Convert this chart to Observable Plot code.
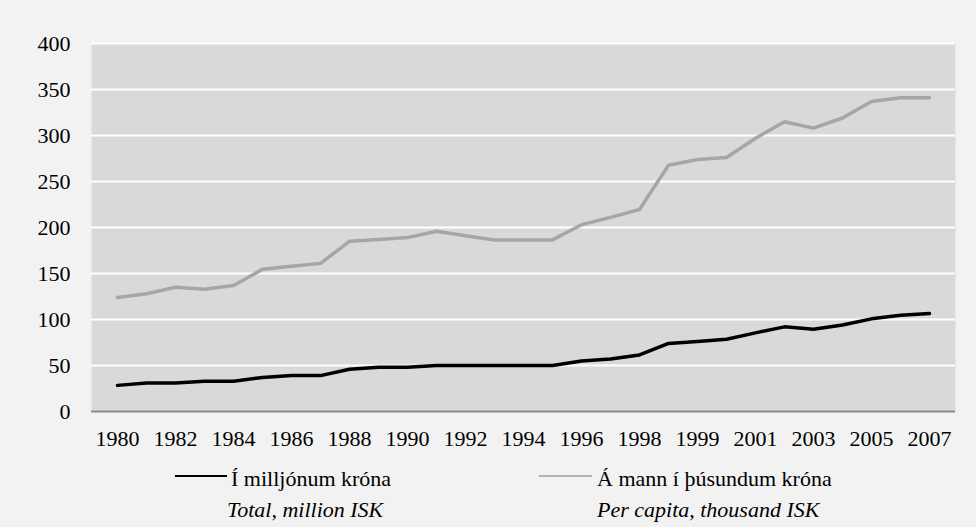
<!DOCTYPE html>
<html>
<head>
<meta charset="utf-8">
<script src="https://cdn.jsdelivr.net/npm/d3@7"></script>
<script src="https://cdn.jsdelivr.net/npm/@observablehq/plot@0.6"></script>
<style>
  html, body { margin: 0; padding: 0; background: #f2f2f2; }
  #wrap { position: relative; width: 976px; height: 527px; background: #f2f2f2; overflow: hidden;
          font-family: "Liberation Serif", Tinos, "Times New Roman", Times, "DejaVu Serif", serif; color: #000; }
  #legend { position: relative; width: 976px; height: 72px; }
  .sw { position: absolute; height: 2px; top: 20px; }
  .lt { position: absolute; font-size: 22px; line-height: 22px; white-space: nowrap; }
  .it { font-style: italic; }
  #chart svg text { font-family: "Liberation Serif", Tinos, "Times New Roman", Times, "DejaVu Serif", serif; }
</style>
</head>
<body>
<div id="wrap">
  <div id="chart"></div>
  <div id="legend"></div>
</div>
<script>
// Category labels (index 19 is a second 1998 value; only every other label is shown)
const labels = ["1980","1981","1982","1983","1984","1985","1986","1987","1988","1989",
  "1990","1991","1992","1993","1994","1995","1996","1997","1998","1998",
  "1999","2000","2001","2002","2003","2004","2005","2006","2007"];
// Í milljónum króna / Total, million ISK
const total = [28.4,31,31,33,33,37,39,39,46,48,48,50,50,50,50,50,55,57,61.5,
  74,76,78.5,85.5,92,89.5,94,100.7,104.7,106.5];
// Á mann í þúsundum króna / Per capita, thousand ISK
const perCapita = [124,128,135,133,137,154.5,158,161,185,187,189,196,191,186.5,186.5,186.5,
  203,211,219.6,267.6,274,276,297,315,308,319,337,341,341];
const yTicks = [0,50,100,150,200,250,300,350,400];
const seriesNames = ["Í milljónum króna","Á mann í þúsundum króna"];
const seriesNamesEn = ["Total, million ISK","Per capita, thousand ISK"];
const seriesColors = ["#000000","#a6a6a6"];

const data = labels.map((l, i) => ({i, label: l, total: total[i], perCapita: perCapita[i]}));

const chart = Plot.plot({
  width: 976,
  height: 455,
  marginLeft: 91,
  marginRight: 21,
  marginTop: 43,
  marginBottom: 44,
  style: {background: "#f2f2f2", fontSize: "22px", color: "#000"},
  x: {type: "point", domain: d3.range(labels.length), padding: 0.5},
  y: {domain: [0, 400]},
  marks: [
    Plot.frame({fill: "#d9d9d9", stroke: "none"}),
    Plot.ruleY(yTicks.filter(d => d > 0), {stroke: "#ffffff", strokeWidth: 2}),
    Plot.ruleY([0], {stroke: "#8c8c8c", strokeWidth: 2}),
    Plot.axisY({ticks: yTicks, tickSize: 0, tickPadding: 21, label: null}),
    Plot.axisX({ticks: d3.range(0, labels.length, 2), tickFormat: i => labels[i], tickSize: 0, tickPadding: 19, label: null}),
    Plot.line(data, {x: "i", y: "perCapita", stroke: seriesColors[1], strokeWidth: 3.5}),
    Plot.line(data, {x: "i", y: "total", stroke: seriesColors[0], strokeWidth: 3.5})
  ]
});
document.getElementById("chart").appendChild(chart);

// Legend below the SVG
const legend = document.getElementById("legend");
const items = [
  {sx: 175, sw: 52, tx: 231, ix: 227},
  {sx: 539, sw: 53, tx: 597, ix: 597}
];
items.forEach((it, k) => {
  const sw = document.createElement("div");
  sw.className = "sw";
  sw.style.left = it.sx + "px";
  sw.style.width = it.sw + "px";
  sw.style.background = k === 0 ? "#000" : "#b3b3b3";
  legend.appendChild(sw);
  const t = document.createElement("div");
  t.className = "lt";
  t.style.left = it.tx + "px";
  t.style.top = "13px";
  t.textContent = seriesNames[k];
  legend.appendChild(t);
  const e = document.createElement("div");
  e.className = "lt it";
  e.style.left = it.ix + "px";
  e.style.top = "44px";
  e.textContent = seriesNamesEn[k];
  legend.appendChild(e);
});
</script>
</body>
</html>
